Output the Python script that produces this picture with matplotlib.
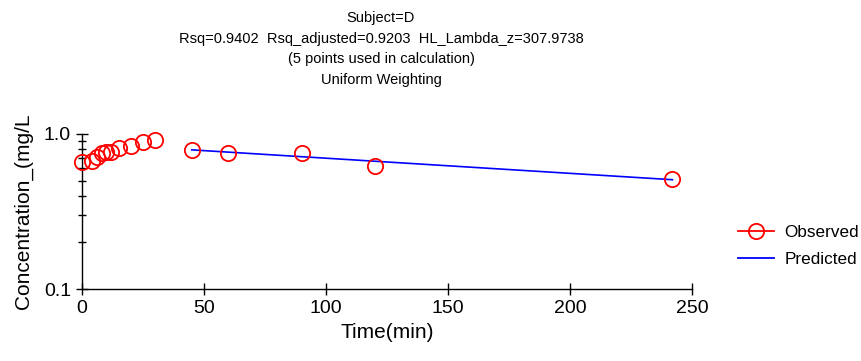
import numpy as np
import matplotlib
matplotlib.use("Agg")
import matplotlib.pyplot as plt
from matplotlib.ticker import LogLocator, NullFormatter, FixedLocator
from matplotlib.lines import Line2D

plt.rcParams['font.family'] = ['Liberation Sans', 'DejaVu Sans']

# Observed concentration-time data
time_obs = [0, 4, 6, 8, 10, 12, 15, 20, 25, 30, 45, 60, 90, 120, 242]
conc_obs = [0.662, 0.670, 0.714, 0.751, 0.769, 0.769, 0.816, 0.837, 0.892, 0.915,
            0.788, 0.757, 0.757, 0.622, 0.510]

# Terminal phase fit
rsq = 0.9402
rsq_adj = 0.9203
half_life = 307.9738
n_points = 5
pred_start_time = 45
pred_end_time = 242
pred_start_conc = 0.790

lambda_z = np.log(2) / half_life
time_pred = np.array([pred_start_time, pred_end_time])
conc_pred = pred_start_conc * np.exp(-lambda_z * (time_pred - pred_start_time))

W, H = 861, 361
fig = plt.figure(figsize=(W / 100, H / 100), dpi=100)
ax = fig.add_axes([82 / W, (H - 289) / H, (692 - 82) / W, (289 - 134) / H])

ax.plot(time_pred, conc_pred, color='#0000ff', lw=1.2, zorder=2)
ax.plot(time_obs, conc_obs, linestyle='none', marker='o', ms=11, mfc='none',
        mec='#ff0000', mew=1.3, clip_on=False, zorder=3)

ax.set_yscale('log')
ax.set_xlim(0, 250)
ax.set_ylim(0.1, 1.0)
ax.set_xticks([0, 50, 100, 150, 200, 250])
ax.yaxis.set_major_locator(FixedLocator([0.1, 1.0]))
ax.set_yticklabels(['0.1', '1.0'])
ax.yaxis.set_minor_locator(LogLocator(base=10, subs=np.arange(2, 10)))
ax.yaxis.set_minor_formatter(NullFormatter())

for s in ['top', 'right']:
    ax.spines[s].set_visible(False)
for s in ['left', 'bottom']:
    ax.spines[s].set_linewidth(1.0)
    ax.spines[s].set_color('black')

ax.tick_params(axis='both', which='major', direction='inout', length=8, width=1,
               labelsize=14, pad=4)
ax.tick_params(axis='y', which='minor', direction='inout', length=6, width=1)

ax.set_xlabel('Time(min)', fontsize=15, labelpad=4)
ax.set_ylabel('Concentration_(mg/L', fontsize=15, labelpad=8)

title = ("Subject=D\n"
         f"Rsq={rsq:.4f}  Rsq_adjusted={rsq_adj:.4f}  HL_Lambda_z={half_life:.4f}\n"
         f"({n_points} points used in calculation)\n"
         "Uniform Weighting")
fig.text(381 / W, 1 - 11 / H, title, ha='center', va='top', fontsize=10.5,
         linespacing=1.6)

# Legend
handles = [
    Line2D([], [], color='#ff0000', lw=1.3, marker='o', ms=11, mfc='none',
           mec='#ff0000', mew=1.3),
    Line2D([], [], color='#0000ff', lw=1.3),
]
fig.legend(handles, ['Observed', 'Predicted'], loc='center left',
           bbox_to_anchor=(738 / W, 1 - 246 / H), frameon=False, fontsize=12.3,
           handlelength=2.1, labelspacing=0.75, handletextpad=0.6,
           borderpad=0, borderaxespad=0)

fig.savefig('out.png', dpi=100)
